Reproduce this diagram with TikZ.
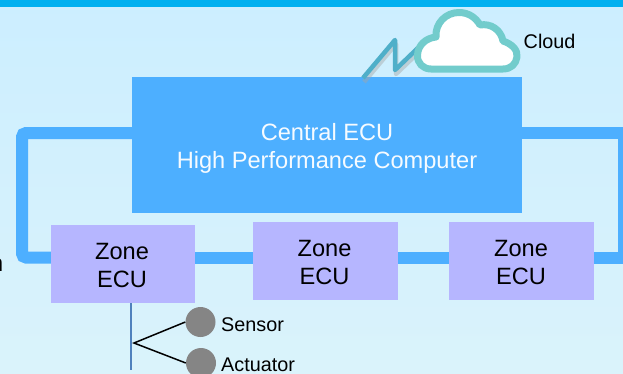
\documentclass[tikz,border=0pt]{standalone}
\usepackage{fontspec}
\setmainfont{Liberation Sans}
\definecolor{topbar}{HTML}{00B0F0}
\definecolor{bgtop}{HTML}{CCEEFF}
\definecolor{bgbot}{HTML}{DAF3FB}
\definecolor{busblue}{HTML}{4DAFFF}
\definecolor{zonefill}{HTML}{B6B6FF}
\definecolor{cloudedge}{HTML}{72CCCC}
\definecolor{boltcol}{HTML}{4FAFC9}
\definecolor{stemcol}{HTML}{4F81BD}
\definecolor{dotgray}{HTML}{858585}
\tikzset{
  bus/.style={draw=busblue,line width=12pt},
  zonebox/.style={fill=zonefill,minimum width=144pt,minimum height=78pt,inner sep=0pt},
  zonetext/.style={inner sep=0pt,align=center,font=\fontsize{23.6}{28}\selectfont,text=black},
  centralbox/.style={fill=busblue,minimum width=390pt,minimum height=136pt,inner sep=0pt},
  centraltext/.style={inner sep=0pt,align=center,font=\fontsize{23.6}{28}\selectfont,text=white!95!busblue},
  dot/.style={circle,fill=dotgray,minimum size=30pt,inner sep=0pt},
  smalltext/.style={font=\fontsize{19.8}{24}\selectfont,text=black,inner sep=0pt,anchor=west},
  branch/.style={draw=black,line width=1.5pt},
}
\begin{document}
\begin{tikzpicture}[x=1pt,y=-1pt]
\useasboundingbox (0,0) rectangle (623,373);
\clip (0,0) rectangle (623,373);
\shade[top color=bgtop,bottom color=bgbot] (0,0) rectangle (623,373);
\fill[topbar] (0,0) rectangle (623,7);
% ring corners
\coordinate (ringTL) at (22,133);
\coordinate (ringBL) at (22,257.5);
\coordinate (ringTR) at (624,133);
\coordinate (ringBR) at (624,257.5);
% boxes
\node[centralbox] (central) at (327,145) {};
\node[centraltext] (centrallabel) at (327,148) {Central ECU\\High Performance Computer};
\node[zonebox] (zoneA) at (123,264) {};
\node[zonebox,minimum width=145pt] (zoneB) at (325.5,261) {};
\node[zonebox,minimum width=145pt] (zoneC) at (521.5,261) {};
\node[zonetext] (zoneAlabel) at (122,265) {Zone\\ECU};
\node[zonetext] (zoneBlabel) at (324.5,262) {Zone\\ECU};
\node[zonetext] (zoneClabel) at (521,262) {Zone\\ECU};
% ring
\draw[bus,rounded corners=4pt] (central.west |- ringTL) -- (ringTL) -- (ringBL) -- (zoneA.west |- ringBL);
\draw[bus] (zoneA.east |- ringBL) -- (zoneB.west |- ringBL);
\draw[bus] (zoneB.east |- ringBL) -- (zoneC.west |- ringBL);
\draw[bus] (central.east |- ringTR) -- (ringTR) -- (ringBR) -- (zoneC.east |- ringBR);
% bolt
\coordinate (boltA) at (363,78);
\coordinate (boltB) at (395,40);
\coordinate (boltC) at (395,70);
\coordinate (boltD) at (420,46);
\draw[black!35,opacity=.45,line width=4.5pt,line join=round] (364,82) -- (396,44) -- (396,74) -- (421,50);
\draw[boltcol,line width=4.5pt,line join=round] (boltA) -- (boltB) -- (boltC) -- (boltD);
% cloud
\draw[cloudedge,fill=white,line width=7pt,line join=round]
  (431,69) .. controls (423,69) and (417,63) .. (417.5,55)
  .. controls (418,45) and (426,38) .. (436,37)
  .. controls (435,23) and (446,12.5) .. (459,12.5)
  .. controls (469,12.5) and (476,18) .. (480,25)
  .. controls (491,23) and (501,30) .. (503,41)
  .. controls (512,44) and (518,50) .. (517,57)
  .. controls (516,64) and (511,69) .. (503,69) -- cycle;
\node[smalltext] (cloudlabel) at (523.5,41.5) {Cloud};
% clipped text at the left edge
\node[inner sep=0pt,anchor=west,font=\fontsize{23.6}{28}\selectfont,text=black] (cut) at (-10,265) {n};
% stem and branches
\coordinate (stemEnd) at (131,370);
\coordinate (fork) at (134,343);
\draw[stemcol,line width=1.7pt] (zoneA.south -| stemEnd) -- (stemEnd);
\node[dot] (sensor) at (200.5,322) {};
\node[dot] (actuator) at (201,363) {};
\draw[branch] (sensor.west) -- (fork) -- (actuator.west);
\node[smalltext] (sensorlabel) at (221,325) {Sensor};
\node[smalltext] (actuatorlabel) at (221,365) {Actuator};
\end{tikzpicture}
\end{document}
